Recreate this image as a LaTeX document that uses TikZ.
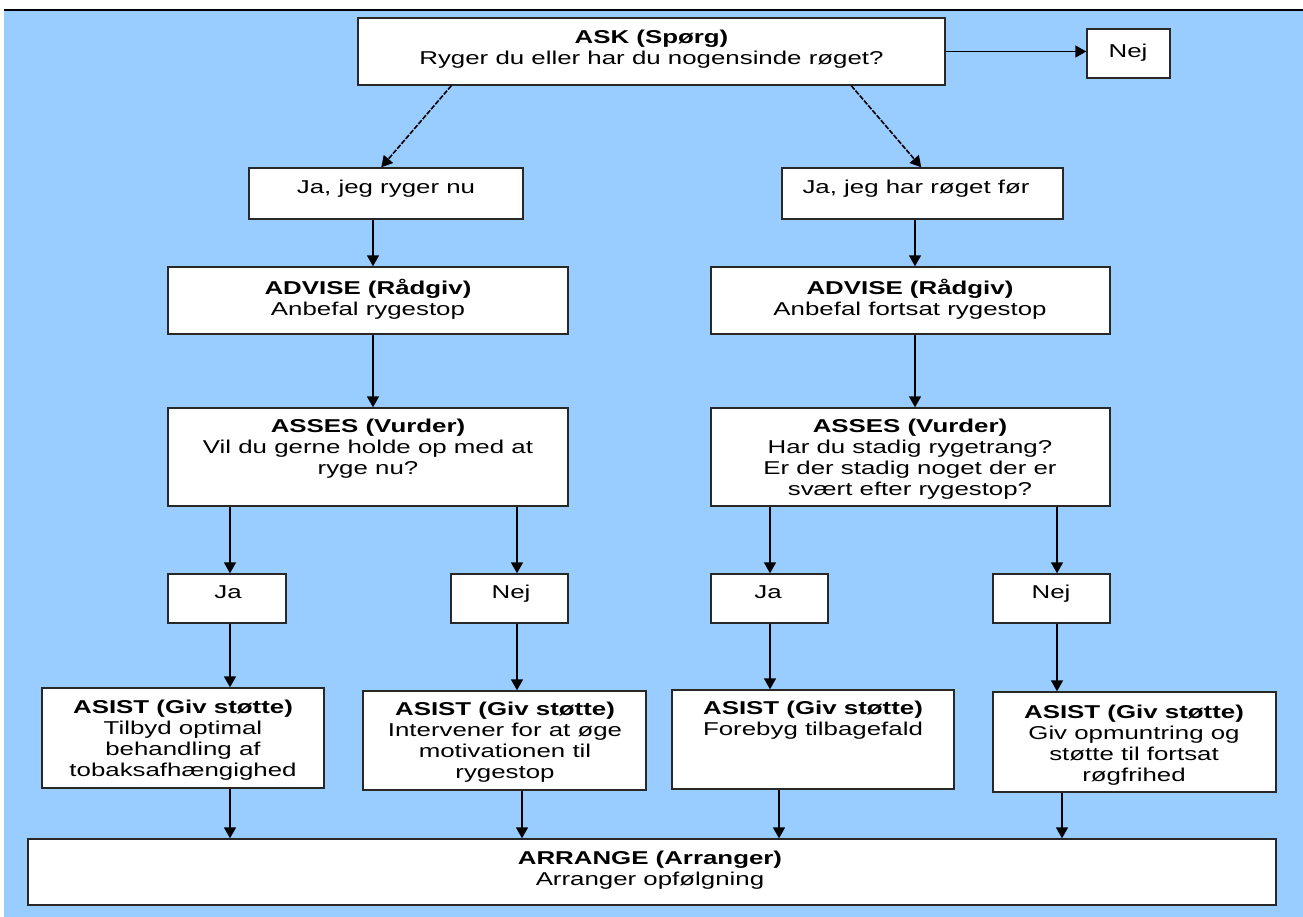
\documentclass[tikz,border=0pt]{standalone}
\usepackage{fontspec}
\setmainfont{Liberation Sans}[FakeStretch=1.39]
\usetikzlibrary{arrows.meta,calc}
\definecolor{bgblue}{RGB}{153,204,255}
\definecolor{edge}{RGB}{40,40,40}
\tikzset{
  box/.style={draw=edge, line width=1.4pt, fill=white, inner sep=0pt},
  txt/.style={inner sep=0pt, align=center, font=\fontsize{18.6}{21}\selectfont, text=black},
  arr/.style={draw=black, line width=1.6pt, -{Triangle[length=11pt,width=12pt]}},
  darr/.style={arr, dash pattern=on 5pt off 1.5pt},
}
\newcommand\mybox[5]{\node[box, minimum width=#4pt-#2pt, minimum height=#5pt-#3pt] (#1) at ({(#2+#4)/2},{(#3+#5)/2}) {};}
\newcommand\btext[4]{\node[txt, anchor=north] (#1) at ({#2},{#3-14}) {\rule{0pt}{14pt}#4};}
\newcommand\varr[3]{\draw[arr] (#1.south -| #3) -- (#2.north -| #3);}
\begin{document}
\begin{tikzpicture}[x=1pt,y=-1pt]
\useasboundingbox (0,0) rectangle (1303,917);
\fill[white] (0,0) rectangle (1303,917);
\fill[bgblue] (4,10) rectangle (1303,917);
\draw[line width=1.5pt] (4,10) -- (1303,10);

% boxes
\mybox{ask}{358}{18}{945}{85}
\mybox{nej0}{1087}{29}{1170}{78}
\mybox{jal}{249}{168}{523}{219}
\mybox{jar}{782}{168}{1063}{219}
\mybox{advl}{168}{267}{568}{334}
\mybox{advr}{711}{267}{1110}{334}
\mybox{assl}{168}{408}{568}{506}
\mybox{assr}{711}{408}{1110}{506}
\mybox{jal2}{168}{574}{286}{623}
\mybox{nejl2}{451}{574}{568}{623}
\mybox{jar2}{711}{574}{828}{623}
\mybox{nejr2}{993}{574}{1110}{623}
\mybox{as1}{42}{688}{324}{788}
\mybox{as2}{363}{691}{646}{790}
\mybox{as3}{672}{690}{954}{789}
\mybox{as4}{993}{692}{1276}{792}
\mybox{arrg}{28}{839}{1276}{905}

% texts
\btext{askt}{651.5}{43}{{\bfseries ASK (Spørg)}\\Ryger du eller har du nogensinde røget?}
\btext{nej0t}{1128}{57}{Nej}
\btext{jalt}{386}{193}{Ja, jeg ryger nu}
\btext{jart}{916}{193}{Ja, jeg har røget før}
\btext{advlt}{368}{293}{{\bfseries ADVISE (Rådgiv)}\\Anbefal rygestop}
\btext{advrt}{910}{293}{{\bfseries ADVISE (Rådgiv)}\\Anbefal fortsat rygestop}
\btext{asslt}{368}{432}{{\bfseries ASSES (Vurder)}\\Vil du gerne holde op med at\\ryge nu?}
\btext{assrt}{910}{432}{{\bfseries ASSES (Vurder)}\\Har du stadig rygetrang?\\Er der stadig noget der er\\svært efter rygestop?}
\btext{jal2t}{228}{598}{Ja}
\btext{nejl2t}{511}{598}{Nej}
\btext{jar2t}{768}{598}{Ja}
\btext{nejr2t}{1051}{598}{Nej}
\btext{as1t}{183}{713}{{\bfseries ASIST (Giv støtte)}\\Tilbyd optimal\\behandling af\\tobaksafhængighed}
\btext{as2t}{505}{715}{{\bfseries ASIST (Giv støtte)}\\Intervener for at øge\\motivationen til\\rygestop}
\btext{as3t}{813}{714}{{\bfseries ASIST (Giv støtte)}\\Forebyg tilbagefald}
\btext{as4t}{1134}{718}{{\bfseries ASIST (Giv støtte)}\\Giv opmuntring og\\støtte til fortsat\\røgfrihed}
\btext{arrgt}{650}{864}{{\bfseries ARRANGE (Arranger)}\\Arranger opfølgning}

% arrow x positions
\coordinate (xa) at (373,0);
\coordinate (xb) at (915,0);
\coordinate (x1) at (230,0);
\coordinate (x2) at (517,0);
\coordinate (x2b) at (522,0);
\coordinate (x3) at (770,0);
\coordinate (x3b) at (779,0);
\coordinate (x4) at (1057,0);
\coordinate (x4b) at (1062,0);

% connectors
\draw[arr] (ask.east) -- (ask.east -| nej0.west);
\draw[darr] ($(ask.south west)+(94,0)$) -- ($(jal.north west)+(133,0)$);
\draw[darr] ($(ask.south west)+(494,0)$) -- ($(jar.north west)+(140,0)$);
\varr{jal}{advl}{xa}
\varr{jar}{advr}{xb}
\varr{advl}{assl}{xa}
\varr{advr}{assr}{xb}
\varr{assl}{jal2}{x1}
\varr{assl}{nejl2}{x2}
\varr{assr}{jar2}{x3}
\varr{assr}{nejr2}{x4}
\varr{jal2}{as1}{x1}
\varr{nejl2}{as2}{x2}
\varr{jar2}{as3}{x3}
\varr{nejr2}{as4}{x4}
\varr{as1}{arrg}{x1}
\varr{as2}{arrg}{x2b}
\varr{as3}{arrg}{x3b}
\varr{as4}{arrg}{x4b}
\end{tikzpicture}
\end{document}
